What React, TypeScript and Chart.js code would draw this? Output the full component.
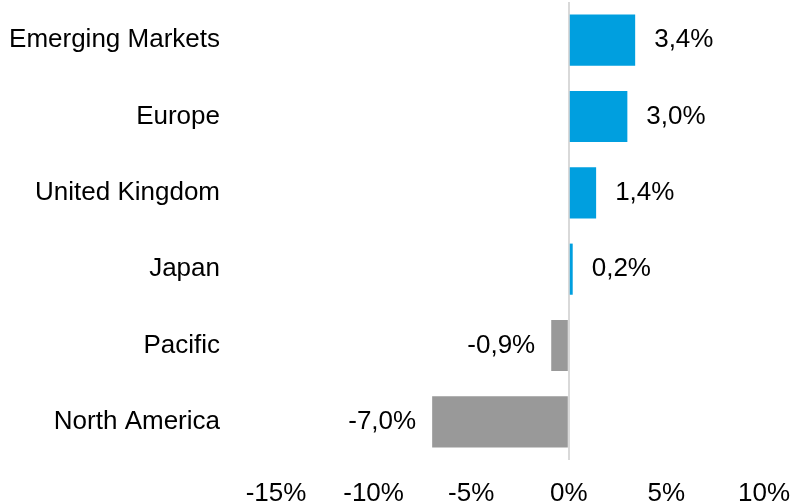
import React, { useEffect, useRef } from "react";
import { Chart, registerables } from "chart.js";

Chart.register(...registerables);

const categories: string[] = [
  "Emerging Markets",
  "Europe",
  "United Kingdom",
  "Japan",
  "Pacific",
  "North America",
];
const values: number[] = [3.4, 3.0, 1.4, 0.2, -0.9, -7.0];
const tickValues: number[] = [-15, -10, -5, 0, 5, 10];

const POS_COLOR = "#009FDF";
const NEG_COLOR = "#999999";
const FONT = "'Liberation Sans', Arial, sans-serif";

const fmt = (v: number) => v.toFixed(1).replace(".", ",") + "%";

const labelPlugin = {
  id: "barLabels",
  afterDatasetsDraw(chart: any) {
    const ctx = chart.ctx;
    const meta = chart.getDatasetMeta(0);
    ctx.save();
    ctx.font = `26px ${FONT}`;
    ctx.fillStyle = "#000000";
    ctx.textBaseline = "middle";
    meta.data.forEach((bar: any, i: number) => {
      const v = values[i];
      if (v >= 0) {
        ctx.textAlign = "left";
        ctx.fillText(fmt(v), bar.x + 19, bar.y);
      } else {
        ctx.textAlign = "right";
        ctx.fillText(fmt(v), bar.x - 16, bar.y);
      }
    });
    ctx.restore();
  },
};

export default function App() {
  const ref = useRef<HTMLCanvasElement | null>(null);
  useEffect(() => {
    if (!ref.current) return;
    const chart = new Chart(ref.current, {
      type: "bar",
      data: {
        labels: categories,
        datasets: [
          {
            data: values,
            backgroundColor: values.map((v) => (v >= 0 ? POS_COLOR : NEG_COLOR)),
            borderWidth: 0,
            categoryPercentage: 1,
            barPercentage: 0.67,
          },
        ],
      },
      options: {
        indexAxis: "y",
        animation: false,
        responsive: false,
        maintainAspectRatio: false,
        layout: { padding: { top: 2, right: 28, left: 0, bottom: 0 } },
        plugins: {
          legend: { display: false },
          tooltip: { enabled: false },
        },
        scales: {
          x: {
            min: -15,
            max: 10,
            afterBuildTicks: (scale: any) => {
              scale.ticks = tickValues.map((v) => ({ value: v }));
            },
            afterFit: (scale: any) => {
              scale.height = 44;
              scale.paddingLeft = 0;
              scale.paddingRight = 0;
            },
            border: { display: false },
            grid: {
              drawTicks: false,
              color: (c: any) => (c.tick && c.tick.value === 0 ? "#D9D9D9" : "rgba(0,0,0,0)"),
              lineWidth: 2,
            },
            ticks: {
              padding: 18,
              maxRotation: 0,
              autoSkip: false,
              color: "#000000",
              font: { family: FONT, size: 26 },
              callback: (v: any) => `${v}%`,
            },
          },
          y: {
            afterFit: (scale: any) => {
              scale.width = 276;
              scale.paddingTop = 0;
              scale.paddingBottom = 0;
            },
            border: { display: false },
            grid: { display: false, drawTicks: false },
            ticks: {
              padding: 56,
              color: "#000000",
              font: { family: FONT, size: 26 },
            },
          },
        },
      },
      plugins: [labelPlugin],
    });
    return () => chart.destroy();
  }, []);
  return (
    <div style={{ position: "fixed", left: 0, top: 0, width: 792, height: 504, background: "#fff" }}>
      <canvas ref={ref} width={792} height={504} style={{ display: "block" }} />
    </div>
  );
}
